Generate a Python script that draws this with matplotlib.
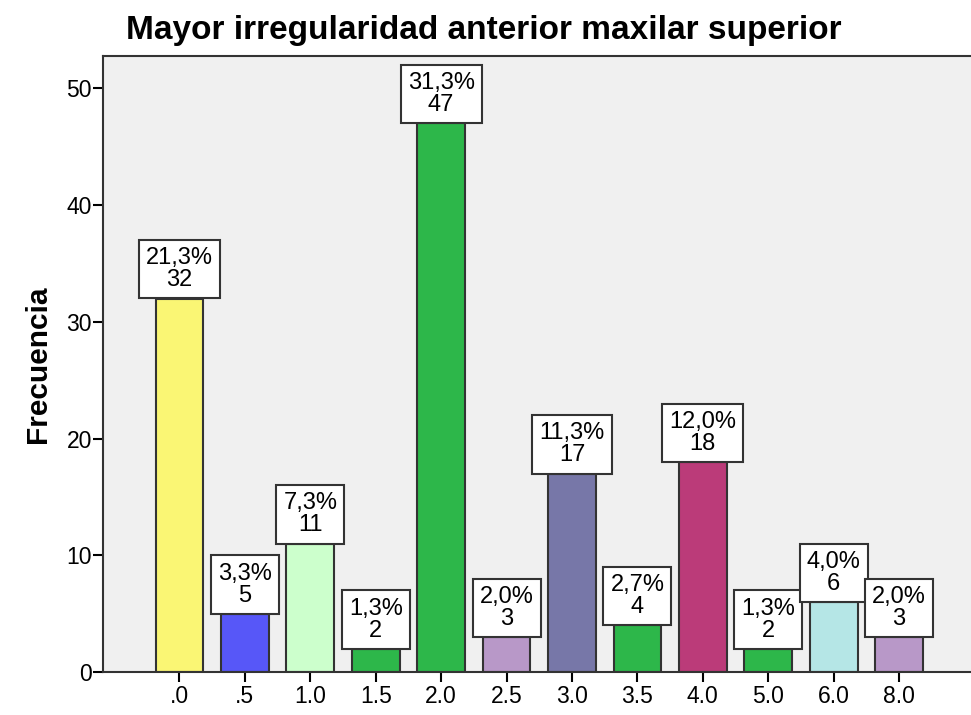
import numpy as np
import matplotlib
matplotlib.use('Agg')
import matplotlib.pyplot as plt

# datos
categorias = ['.0', '.5', '1.0', '1.5', '2.0', '2.5', '3.0', '3.5', '4.0', '5.0', '6.0', '8.0']
frecuencias = [32, 5, 11, 2, 47, 3, 17, 4, 18, 2, 6, 3]
porcentajes = ['21,3%', '3,3%', '7,3%', '1,3%', '31,3%', '2,0%', '11,3%', '2,7%', '12,0%', '1,3%', '4,0%', '2,0%']
colores = ['#FAF674', '#5757F8', '#CCFFCC', '#2DB74A', '#2DB74A', '#B898C8',
           '#7777A8', '#2DB74A', '#BB3B79', '#2DB74A', '#B5E6E6', '#B898C8']

plt.rcParams['font.family'] = ['Liberation Sans', 'DejaVu Sans']

fig = plt.figure(figsize=(9.71, 7.15), dpi=100)
ax = fig.add_axes([0.106, 0.060, 0.894, 0.862])
ax.set_facecolor('#F0F0F0')

x = np.arange(len(categorias))
ax.bar(x, frecuencias, width=0.73, color=colores, edgecolor='#333333', linewidth=1.5, zorder=2)

# etiquetas con porcentaje y frecuencia
for xi, f, p in zip(x, frecuencias, porcentajes):
    ax.annotate(f'{p}\n{f}', xy=(xi, f), xytext=(0, 5.2), textcoords='offset points',
                ha='center', va='bottom', fontsize=17, linespacing=1.0, zorder=3,
                bbox=dict(boxstyle='square,pad=0.3', fc='white', ec='#333333', lw=1.5))

ax.set_xlim(-1.17, 12.1)
ax.set_ylim(0, 52.8)
ax.set_xticks(x)
ax.set_xticklabels(categorias, fontsize=16.5)
ax.set_yticks(np.arange(0, 51, 10))
ax.tick_params(axis='y', labelsize=16.5, length=7, width=1.5, pad=1)
ax.tick_params(axis='x', length=7, width=1.5, pad=2)

for lado in ['left', 'bottom', 'top']:
    ax.spines[lado].set_linewidth(1.5)
    ax.spines[lado].set_color('#333333')
ax.spines['right'].set_visible(False)

ax.set_ylabel('Frecuencia', fontsize=21.5, fontweight='bold', labelpad=10)
fig.text(0.498, 0.957, 'Mayor irregularidad anterior maxilar superior', ha='center', va='center',
         fontsize=24, fontweight='bold')

fig.savefig('out.png', dpi=100)
